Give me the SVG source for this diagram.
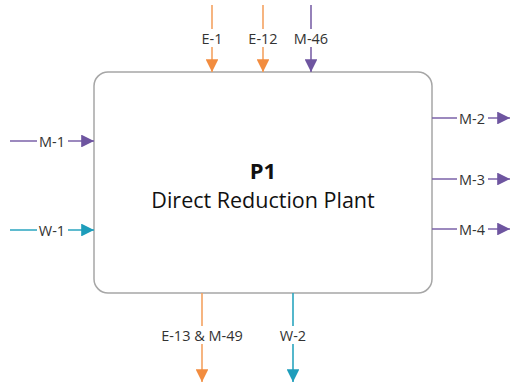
<svg xmlns="http://www.w3.org/2000/svg" width="510" height="386" viewBox="0 0 510 386">
<style>
.lbl{font-family:"Open Sans","Liberation Sans",sans-serif;font-size:14.5px;fill:#333;text-anchor:middle;dominant-baseline:central}
.bg{fill:#fff}
.o{stroke:#F4A261;stroke-width:1.6;fill:none}
.p{stroke:#7B62A8;stroke-width:1.6;fill:none}
.t{stroke:#2AA5BF;stroke-width:1.6;fill:none}
</style>
<defs>
<marker id="ao" viewBox="0 0 10 10" refX="10" refY="5" markerWidth="8" markerHeight="8" markerUnits="strokeWidth" orient="auto"><path d="M0,0L10,5L0,10z" fill="#F28C3F"/></marker>
<marker id="ap" viewBox="0 0 10 10" refX="10" refY="5" markerWidth="8" markerHeight="8" markerUnits="strokeWidth" orient="auto"><path d="M0,0L10,5L0,10z" fill="#6E55A0"/></marker>
<marker id="at" viewBox="0 0 10 10" refX="10" refY="5" markerWidth="8" markerHeight="8" markerUnits="strokeWidth" orient="auto"><path d="M0,0L10,5L0,10z" fill="#1E9DBB"/></marker>
</defs>
<g id="P1">
<rect x="94" y="72" width="338" height="221" rx="14" ry="14" fill="#fff" stroke="#A6A6A6" stroke-width="1.5"/>
<text x="263" y="170" font-family="'Open Sans','Liberation Sans',sans-serif" font-size="22" font-weight="bold" fill="#111" text-anchor="middle" dominant-baseline="central">P1</text>
<text x="263" y="199" font-family="'Open Sans','Liberation Sans',sans-serif" font-size="21.5" fill="#111" text-anchor="middle" dominant-baseline="central">Direct Reduction Plant</text>
</g>
<g id="connectors">
<path class="o" d="M212,5V72" marker-end="url(#ao)"/>
<path class="o" d="M263,5V72" marker-end="url(#ao)"/>
<path class="p" d="M311,5V72" marker-end="url(#ap)"/>
<path class="o" d="M202,293V382" marker-end="url(#ao)"/>
<path class="t" d="M293,293V382" marker-end="url(#at)"/>
<path class="p" d="M10,141H94" marker-end="url(#ap)"/>
<path class="t" d="M10,230H94" marker-end="url(#at)"/>
<path class="p" d="M432,118H510" marker-end="url(#ap)"/>
<path class="p" d="M432,179H510" marker-end="url(#ap)"/>
<path class="p" d="M432,229H510" marker-end="url(#ap)"/>
</g>
<g id="labels">
<rect class="bg" x="198" y="29" width="28" height="18"/><text class="lbl" x="212" y="38">E-1</text>
<rect class="bg" x="244" y="29" width="38" height="18"/><text class="lbl" x="263" y="38">E-12</text>
<rect class="bg" x="289" y="29" width="44" height="18"/><text class="lbl" x="311" y="38">M-46</text>
<rect class="bg" x="155" y="326" width="94" height="18"/><text class="lbl" x="202" y="335">E-13 &amp; M-49</text>
<rect class="bg" x="277" y="326" width="32" height="18"/><text class="lbl" x="293" y="335">W-2</text>
<rect class="bg" x="37" y="132" width="31" height="18"/><text class="lbl" x="52" y="141">M-1</text>
<rect class="bg" x="37" y="221" width="31" height="18"/><text class="lbl" x="52" y="230">W-1</text>
<rect class="bg" x="457" y="109" width="31" height="18"/><text class="lbl" x="472" y="118">M-2</text>
<rect class="bg" x="457" y="170" width="31" height="18"/><text class="lbl" x="472" y="179">M-3</text>
<rect class="bg" x="457" y="220" width="31" height="18"/><text class="lbl" x="472" y="229">M-4</text>
</g>
</svg>
